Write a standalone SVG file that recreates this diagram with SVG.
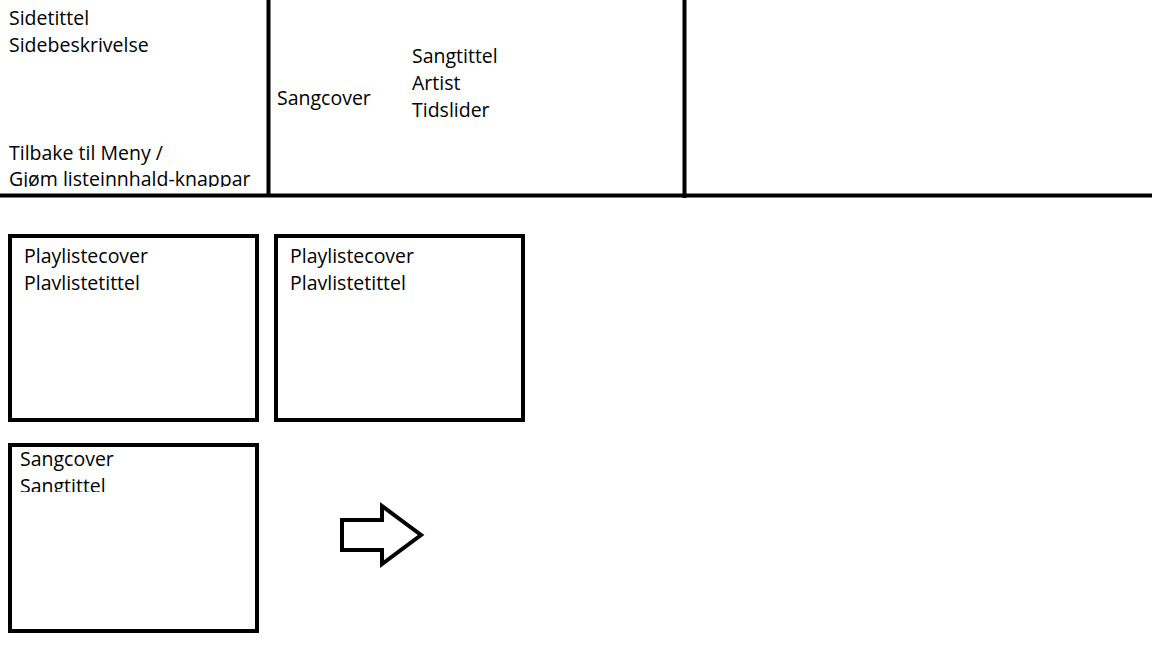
<svg xmlns="http://www.w3.org/2000/svg" width="1152" height="648" viewBox="0 0 1152 648">
<style>
text{font-family:"Open Sans",Lato,sans-serif;font-size:19.5px;fill:#000}
.ln{stroke:#000;stroke-width:4;fill:none}
.bx{stroke:#000;stroke-width:4;fill:#fff}
</style>
<defs>
<clipPath id="c1"><rect x="0" y="0" width="266" height="187"/></clipPath>
<clipPath id="c2"><rect x="0" y="240" width="1152" height="50"/></clipPath>
<clipPath id="c3"><rect x="0" y="449" width="1152" height="43"/></clipPath>
</defs>
<rect width="1152" height="648" fill="#fff"/>
<g id="header-left">
<text x="9" y="25">Sidetittel</text>
<text x="9" y="52">Sidebeskrivelse</text>
<g clip-path="url(#c1)">
<text x="9" y="160">Tilbake til Meny /</text>
<text x="9" y="186">Gjøm listeinnhald-knappar</text>
</g>
</g>
<g id="header-player">
<text x="277" y="105">Sangcover</text>
<text x="412" y="63">Sangtittel</text>
<text x="412" y="90">Artist</text>
<text x="412" y="117">Tidslider</text>
</g>
<g id="frame">
<line class="ln" x1="268.5" y1="0" x2="268.5" y2="197"/>
<line class="ln" x1="684.5" y1="0" x2="684.5" y2="198"/>
<line class="ln" x1="0" y1="195.5" x2="1152" y2="195.5"/>
</g>
<g id="playlist1">
<rect class="bx" x="10" y="236" width="247" height="184"/>
<g clip-path="url(#c2)">
<text x="24" y="263">Playlistecover</text>
<text x="24" y="290">Playlistetittel</text>
</g>
</g>
<g id="playlist2">
<rect class="bx" x="276" y="236" width="247" height="184"/>
<g clip-path="url(#c2)">
<text x="290" y="263">Playlistecover</text>
<text x="290" y="290">Playlistetittel</text>
</g>
</g>
<g id="song1">
<rect class="bx" x="10" y="445" width="247" height="186"/>
<g clip-path="url(#c3)">
<text x="20" y="466">Sangcover</text>
<text x="20" y="493">Sangtittel</text>
</g>
</g>
<g id="connectors">
<polygon class="ln" stroke-linejoin="miter" points="342,520 382,520 382,506 421,535 382,564 382,550 342,550"/>
</g>
</svg>
